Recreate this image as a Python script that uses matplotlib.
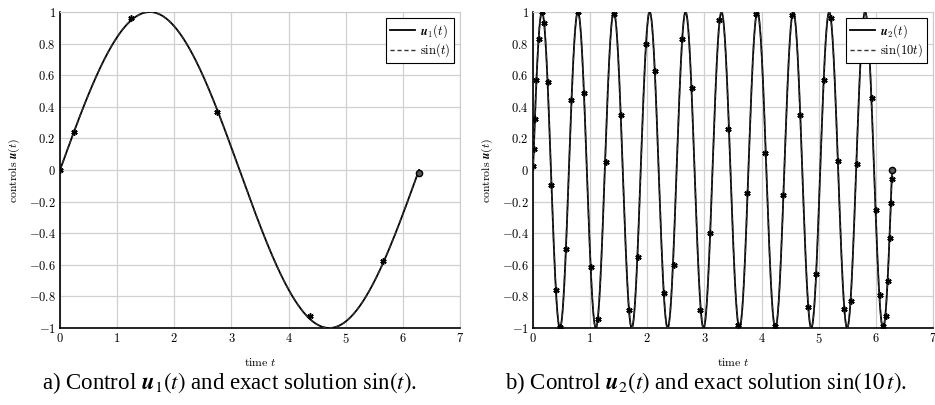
import numpy as np
import matplotlib
matplotlib.use('agg')
import matplotlib.pyplot as plt

plt.rcParams['mathtext.fontset'] = 'cm'
plt.rcParams['font.family'] = ['DejaVu Serif']

# collocation nodes of the control u1 (stars)
t1_nodes = [0.0, 0.245, 1.25, 2.75, 4.38, 5.66]
u1_nodes = [0.0, 0.24, 0.96, 0.365, -0.925, -0.577]
t1_end, u1_end = 6.28, -0.02

# collocation nodes of the control u2 (stars)
t2_nodes = [0.0, 0.01, 0.035, 0.06, 0.10, 0.16, 0.20, 0.26, 0.32, 0.40, 0.48, 0.58,
            0.67, 0.79, 0.89, 1.01, 1.14, 1.27, 1.42, 1.54, 1.68, 1.83,
            1.98, 2.13, 2.29, 2.46, 2.61, 2.78, 2.92, 3.09,
            3.25, 3.42, 3.59, 3.75, 3.91, 4.06, 4.23, 4.38, 4.53, 4.68,
            4.82, 4.96, 5.09, 5.22, 5.33, 5.45, 5.56, 5.67, 5.93, 6.00,
            6.07, 6.13, 6.18, 6.21, 6.24, 6.26, 6.275]
u2_nodes = [0.023, 0.13, 0.32, 0.57, 0.83, 1.0, 0.93, 0.56, -0.097, -0.76, -0.995, -0.50,
            0.445, 1.0, 0.49, -0.617, -0.945, 0.05, 0.99, 0.345, -0.885, -0.55,
            0.80, 0.625, -0.78, -0.60, 0.83, 0.52, -0.885, -0.40,
            0.95, 0.26, -0.98, -0.148, 0.99, 0.11, -0.99, -0.16, 0.98, 0.35,
            -0.87, -0.657, 0.57, 0.96, 0.06, -0.88, -0.83, 0.04, 0.455, -0.254,
            -0.79, -0.99, -0.925, -0.70, -0.43, -0.21, -0.06]
t2_end, u2_end = 6.28, 0.0

freqs = [1, 10]
leg_u = [r'$\boldsymbol{u}_1(t)$', r'$\boldsymbol{u}_2(t)$']
leg_ex = [r'$\sin(t)$', r'$\sin(10t)$']
captions = [r'a) Control $\boldsymbol{u}_1(t)$ and exact solution $\sin(t)$.',
            r'b) Control $\boldsymbol{u}_2(t)$ and exact solution $\sin(10\,t)$.']

yticks = [-1, -0.8, -0.6, -0.4, -0.2, 0, 0.2, 0.4, 0.6, 0.8, 1]
ylabels = ['$-1$', '$-0.8$', '$-0.6$', '$-0.4$', '$-0.2$', '$0$',
           '$0.2$', '$0.4$', '$0.6$', '$0.8$', '$1$']
xticks = [0, 1, 2, 3, 4, 5, 6, 7]


def panel(ax, k, tn, un, te, ue):
    t = np.linspace(0, 2 * np.pi, 3000)
    ax.plot(t, np.sin(freqs[k] * t), color='black', lw=1.3, label=leg_u[k], zorder=3)
    ax.plot(t, np.sin(freqs[k] * t), color='#333333', lw=1.0, ls=(0, (3, 2)),
            label=leg_ex[k], zorder=4)
    ax.plot(tn, un, ls='none', marker=(6, 2, 0), ms=4.5, mew=1.1, color='black', zorder=5)
    ax.plot([te], [ue], ls='none', marker='o', ms=4.5, mfc='#555555', mec='black', zorder=5)
    ax.set_xlim(0, 7)
    ax.set_ylim(-1, 1)
    ax.set_xticks(xticks)
    ax.set_xticklabels(['$%d$' % v for v in xticks], fontsize=9)
    ax.set_yticks(yticks)
    ax.set_yticklabels(ylabels, fontsize=9)
    ax.grid(True, color='#d0d0d0', lw=0.9)
    ax.set_axisbelow(True)
    ax.tick_params(length=0, pad=3)
    for s in ['top', 'right']:
        ax.spines[s].set_color('#cccccc')
    for s in ['left', 'bottom']:
        ax.spines[s].set_color('black')
        ax.spines[s].set_linewidth(1.2)
    ax.set_xlabel(r'$\mathrm{time}\ t$', fontsize=8.5, labelpad=7)
    ax.set_ylabel(r'$\mathrm{controls}\ \boldsymbol{u}(t)$', fontsize=8.5, labelpad=5)
    leg = ax.legend(loc='upper right', fontsize=9, frameon=True, fancybox=False,
                    edgecolor='black', framealpha=1, handlelength=2.0, handletextpad=0.4,
                    borderpad=0.3, labelspacing=0.15, borderaxespad=0.5)
    leg.get_frame().set_linewidth(0.8)


fig = plt.figure(figsize=(9.35, 4.05), dpi=100)
ax1 = fig.add_axes([60 / 935, 1 - 328 / 405, 400 / 935, 316 / 405])
ax2 = fig.add_axes([533 / 935, 1 - 328 / 405, 400 / 935, 316 / 405])
panel(ax1, 0, t1_nodes, u1_nodes, t1_end, u1_end)
panel(ax2, 1, t2_nodes, u2_nodes, t2_end, u2_end)

fig.text(230 / 935, 1 - 383 / 405, captions[0], ha='center', va='center', fontsize=16.5,
         family='Liberation Serif', math_fontfamily='stix')
fig.text(706 / 935, 1 - 383 / 405, captions[1], ha='center', va='center', fontsize=16.5,
         family='Liberation Serif', math_fontfamily='stix')

plt.savefig('out.png', dpi=100)
